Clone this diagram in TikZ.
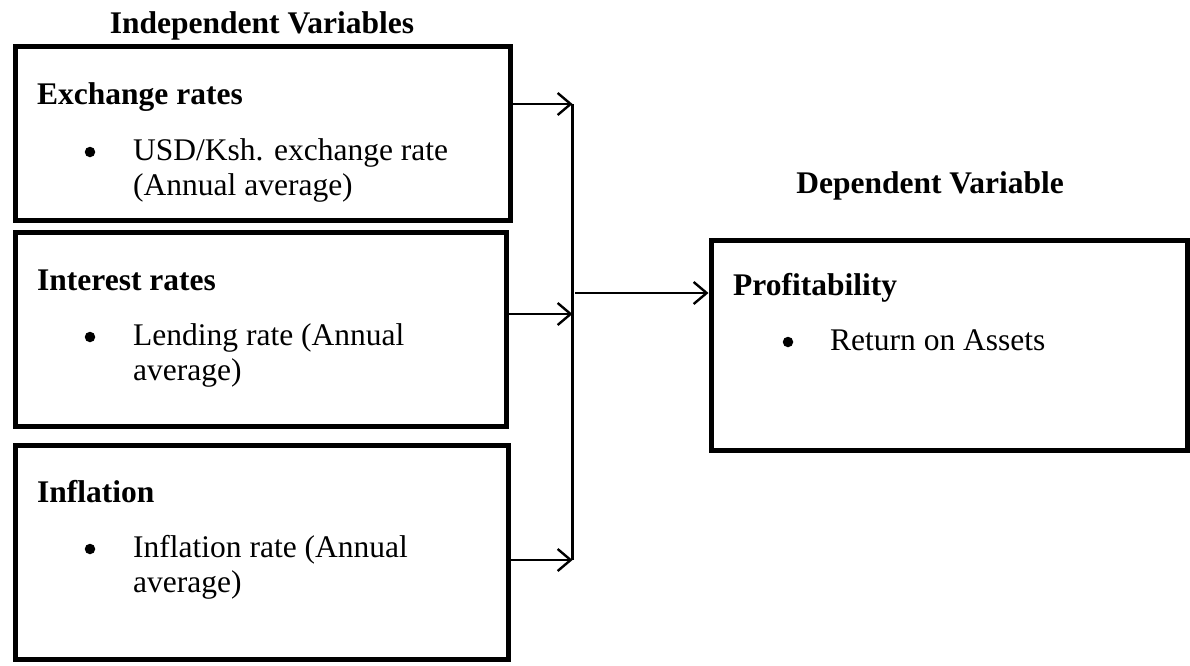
\documentclass[tikz,border=0pt]{standalone}
\usepackage{fontspec}
\setmainfont{Liberation Serif}
\usetikzlibrary{arrows.meta}
\begin{document}
\begin{tikzpicture}[x=1pt,y=-1pt,
  box/.style={draw, line width=5pt, inner sep=0pt},
  hd/.style={anchor=base west, inner sep=0pt, font=\fontsize{31.5}{35}\selectfont\bfseries},
  tx/.style={anchor=base west, inner sep=0pt, font=\fontsize{31.5}{35}\selectfont},
  ttl/.style={anchor=base, inner sep=0pt, font=\fontsize{31.5}{35}\selectfont\bfseries},
  bul/.style={circle, fill, inner sep=0pt, minimum size=10.5pt},
  arr/.style={line width=2.4pt, -{Straight Barb[length=13pt,width=22pt,line width=2.4pt]}},
  ln/.style={line width=2.4pt}]
\useasboundingbox (0,0) rectangle (1190,665);
% boxes
\node[box, minimum width=495pt, minimum height=174pt] (b1) at (262.5,133.5) {};
\node[box, minimum width=491.5pt, minimum height=193.5pt] (b2) at (260.75,329.25) {};
\node[box, minimum width=493pt, minimum height=214pt] (b3) at (261.5,552) {};
\node[box, minimum width=476pt, minimum height=210pt] (r) at (949,345) {};
% titles
\node[ttl] (t1) at (262,33) {Independent Variables};
\node[ttl] (t2) at (930,193) {Dependent Variable};
% box 1 text
\node[hd] (h1) at (37,104) {Exchange rates};
\node[bul] (p1) at (90,152) {};
\node[tx] (l1a) at (133,160) {USD/Ksh. exchange rate};
\node[tx] (l1b) at (133,195) {(Annual average)};
% box 2 text
\node[hd] (h2) at (37,290) {Interest rates};
\node[bul] (p2) at (90,337) {};
\node[tx] (l2a) at (133,345) {Lending rate (Annual};
\node[tx] (l2b) at (133,380) {average)};
% box 3 text
\node[hd] (h3) at (37,502) {Inflation};
\node[bul] (p3) at (90,549) {};
\node[tx] (l3a) at (133,557) {Inflation rate (Annual};
\node[tx] (l3b) at (133,592) {average)};
% right box text
\node[hd] (h4) at (733,295) {Profitability};
\node[bul] (p4) at (788,342) {};
\node[tx] (l4a) at (830,350) {Return on Assets};
% connectors
\coordinate (j1) at (572.5,104);
\coordinate (j2) at (572.5,314);
\coordinate (j3) at (572.5,560);
\coordinate (o1) at (575,293);
\draw[ln] (j1) -- (j3);
\draw[arr] (b1.east |- j1) -- (j1);
\draw[arr] (b2.east |- j2) -- (j2);
\draw[arr] (b3.east |- j3) -- (j3);
\draw[arr] (o1) -- (r.west |- o1);
\end{tikzpicture}
\end{document}
